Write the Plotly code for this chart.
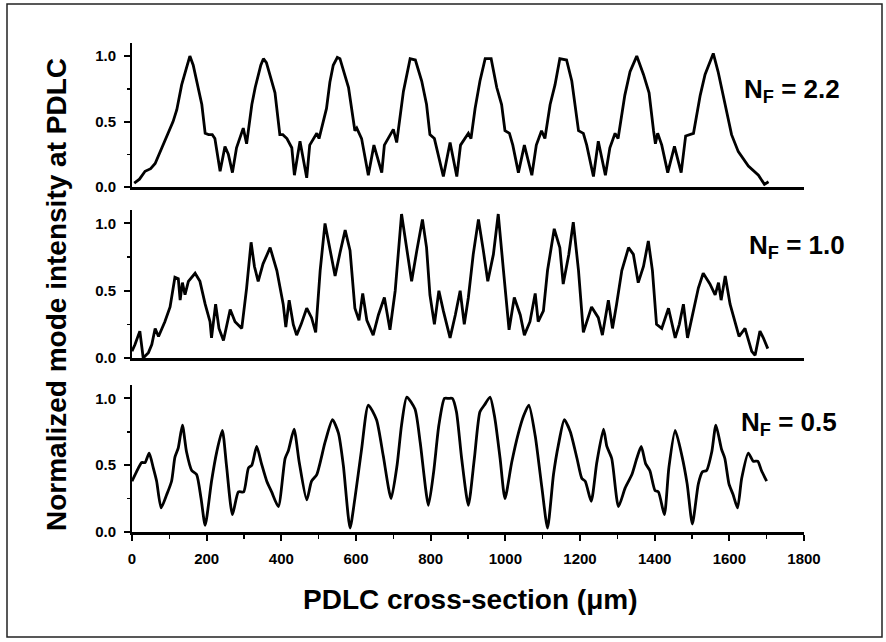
import plotly.graph_objects as go

# ---- data ----
x_nf22 = [6, 20, 35, 50, 62, 80, 97, 101, 110, 120, 133, 145, 155, 164, 178, 187, 196, 205, 215, 222, 236, 249, 258, 269, 280, 298, 307, 321, 330, 345, 352, 360, 370, 383, 396, 404, 415, 428, 435, 450, 468, 476, 495, 501, 521, 530, 539, 550, 557, 566, 580, 597, 602, 615, 633, 648, 669, 676, 700, 709, 718, 727, 745, 759, 776, 789, 798, 810, 834, 852, 870, 880, 901, 908, 919, 932, 946, 962, 977, 990, 999, 1011, 1020, 1035, 1051, 1071, 1083, 1097, 1106, 1120, 1133, 1146, 1164, 1178, 1196, 1209, 1218, 1236, 1249, 1268, 1280, 1294, 1302, 1320, 1334, 1352, 1370, 1385, 1397, 1402, 1408, 1419, 1435, 1453, 1471, 1483, 1504, 1522, 1535, 1557, 1570, 1588, 1606, 1624, 1651, 1678, 1694, 1705]
y_nf22 = [0.03, 0.06, 0.12, 0.14, 0.18, 0.30, 0.42, 0.45, 0.50, 0.59, 0.78, 0.90, 1.00, 0.93, 0.76, 0.63, 0.41, 0.40, 0.40, 0.37, 0.12, 0.31, 0.25, 0.11, 0.30, 0.45, 0.33, 0.63, 0.76, 0.93, 0.98, 0.95, 0.85, 0.72, 0.40, 0.40, 0.37, 0.30, 0.09, 0.35, 0.07, 0.32, 0.41, 0.37, 0.60, 0.80, 0.93, 0.99, 0.98, 0.90, 0.76, 0.43, 0.45, 0.37, 0.09, 0.32, 0.11, 0.32, 0.44, 0.34, 0.55, 0.73, 0.98, 0.97, 0.81, 0.63, 0.40, 0.37, 0.08, 0.34, 0.08, 0.32, 0.41, 0.37, 0.60, 0.81, 0.98, 0.98, 0.76, 0.63, 0.43, 0.41, 0.32, 0.11, 0.32, 0.09, 0.32, 0.43, 0.37, 0.63, 0.78, 0.98, 0.97, 0.81, 0.43, 0.41, 0.32, 0.08, 0.35, 0.09, 0.30, 0.41, 0.37, 0.70, 0.88, 1.00, 0.86, 0.72, 0.43, 0.33, 0.41, 0.32, 0.11, 0.31, 0.11, 0.39, 0.41, 0.70, 0.86, 1.02, 0.88, 0.63, 0.40, 0.27, 0.16, 0.09, 0.02, 0.04]

x_nf10 = [0, 8, 21, 30, 44, 53, 62, 71, 88, 102, 115, 124, 129, 135, 142, 151, 169, 182, 196, 209, 213, 224, 233, 245, 263, 276, 294, 307, 319, 328, 338, 351, 370, 388, 405, 412, 421, 432, 441, 453, 468, 481, 492, 504, 517, 530, 544, 557, 571, 584, 597, 608, 618, 629, 646, 660, 676, 691, 705, 722, 736, 749, 763, 778, 789, 798, 810, 822, 834, 852, 866, 879, 890, 901, 914, 928, 941, 953, 968, 981, 995, 1010, 1024, 1040, 1051, 1066, 1080, 1088, 1102, 1113, 1131, 1146, 1155, 1170, 1182, 1196, 1209, 1231, 1249, 1260, 1276, 1287, 1298, 1312, 1330, 1343, 1356, 1370, 1383, 1394, 1405, 1419, 1437, 1455, 1466, 1477, 1488, 1501, 1517, 1530, 1548, 1562, 1571, 1578, 1589, 1602, 1616, 1626, 1642, 1660, 1669, 1682, 1691, 1703]
y_nf10 = [0.05, 0.10, 0.20, 0.00, 0.04, 0.10, 0.22, 0.16, 0.27, 0.38, 0.60, 0.59, 0.43, 0.56, 0.47, 0.57, 0.63, 0.57, 0.40, 0.27, 0.15, 0.40, 0.22, 0.13, 0.36, 0.27, 0.22, 0.52, 0.86, 0.68, 0.57, 0.70, 0.82, 0.65, 0.40, 0.23, 0.43, 0.25, 0.17, 0.25, 0.37, 0.30, 0.19, 0.65, 1.00, 0.80, 0.61, 0.78, 0.95, 0.80, 0.37, 0.28, 0.48, 0.28, 0.17, 0.32, 0.45, 0.21, 0.50, 1.07, 0.82, 0.57, 0.80, 1.03, 0.82, 0.47, 0.25, 0.50, 0.35, 0.15, 0.32, 0.50, 0.25, 0.45, 0.77, 1.03, 0.80, 0.57, 0.77, 1.07, 0.65, 0.21, 0.45, 0.32, 0.17, 0.27, 0.48, 0.27, 0.35, 0.65, 0.96, 0.82, 0.55, 0.77, 1.01, 0.65, 0.19, 0.38, 0.30, 0.17, 0.43, 0.22, 0.40, 0.65, 0.82, 0.77, 0.56, 0.68, 0.87, 0.65, 0.25, 0.22, 0.37, 0.15, 0.25, 0.40, 0.15, 0.32, 0.52, 0.63, 0.55, 0.47, 0.56, 0.43, 0.61, 0.40, 0.27, 0.16, 0.22, 0.05, 0.02, 0.20, 0.15, 0.07]

x_nf05 = [0, 12, 26, 35, 46, 57, 66, 78, 93, 106, 115, 124, 135, 146, 160, 173, 185, 196, 213, 227, 242, 253, 269, 285, 299, 312, 321, 334, 347, 361, 374, 392, 410, 419, 434, 448, 468, 481, 495, 517, 537, 553, 566, 584, 597, 615, 633, 655, 673, 694, 710, 722, 736, 758, 772, 794, 808, 822, 837, 848, 858, 869, 883, 901, 917, 932, 944, 959, 972, 986, 999, 1017, 1035, 1049, 1063, 1080, 1098, 1113, 1129, 1142, 1158, 1174, 1192, 1205, 1214, 1230, 1245, 1263, 1272, 1285, 1303, 1321, 1339, 1352, 1364, 1376, 1387, 1401, 1410, 1426, 1438, 1455, 1473, 1487, 1501, 1517, 1528, 1539, 1553, 1564, 1579, 1588, 1599, 1610, 1622, 1633, 1651, 1664, 1676, 1686, 1700]
y_nf05 = [0.38, 0.45, 0.52, 0.52, 0.59, 0.48, 0.38, 0.18, 0.28, 0.38, 0.56, 0.63, 0.80, 0.60, 0.46, 0.43, 0.25, 0.05, 0.38, 0.60, 0.76, 0.50, 0.13, 0.30, 0.30, 0.48, 0.50, 0.64, 0.51, 0.38, 0.30, 0.19, 0.55, 0.61, 0.77, 0.52, 0.24, 0.38, 0.43, 0.67, 0.84, 0.74, 0.50, 0.03, 0.25, 0.62, 0.95, 0.84, 0.57, 0.25, 0.50, 0.80, 1.01, 0.92, 0.67, 0.20, 0.45, 0.80, 1.00, 1.00, 1.00, 0.90, 0.55, 0.20, 0.55, 0.90, 0.95, 1.01, 0.85, 0.55, 0.25, 0.52, 0.74, 0.87, 0.95, 0.72, 0.33, 0.03, 0.43, 0.65, 0.84, 0.75, 0.55, 0.40, 0.38, 0.23, 0.52, 0.77, 0.64, 0.55, 0.19, 0.33, 0.43, 0.55, 0.64, 0.51, 0.46, 0.31, 0.30, 0.13, 0.48, 0.76, 0.57, 0.36, 0.06, 0.36, 0.45, 0.46, 0.60, 0.80, 0.62, 0.55, 0.36, 0.28, 0.18, 0.40, 0.59, 0.53, 0.53, 0.46, 0.38]

panel_labels = ["N<sub>F</sub> = 2.2", "N<sub>F</sub> = 1.0", "N<sub>F</sub> = 0.5"]
x_title = "PDLC cross-section (\u03bcm)"
y_title = "Normalized mode intensity at PDLC"

# ---- figure ----
FONT = "Liberation Sans, Arial, sans-serif"
fig = go.Figure()
series = [(x_nf22, y_nf22, "x", "y"), (x_nf10, y_nf10, "x2", "y2"), (x_nf05, y_nf05, "x3", "y3")]
for i, (xs, ys, xa, ya) in enumerate(series):
    fig.add_trace(go.Scatter(x=xs, y=ys, xaxis=xa, yaxis=ya, mode="lines",
                             line=dict(color="black", width=2.8,
                                       shape="spline" if i == 2 else "linear", smoothing=0.6),
                             showlegend=False, hoverinfo="skip"))

domains = [[0.7055, 1.0], [0.3558, 0.6585], [0.0, 0.3006]]
tickfont = dict(family=FONT, size=15, color="black", weight="bold")
layout = dict(
    width=886, height=642,
    margin=dict(l=132, r=82, t=43, b=110),
    paper_bgcolor="white", plot_bgcolor="white",
    font=dict(family=FONT, color="black"),
    showlegend=False,
)
for i in range(3):
    sx = "" if i == 0 else str(i + 1)
    last = (i == 2)
    layout["xaxis" + sx] = dict(
        domain=[0, 1], range=[0, 1800], anchor="y" + sx,
        showline=True, linecolor="black", linewidth=3,
        showgrid=False, zeroline=False,
        showticklabels=last, tickfont=tickfont, ticklabelstandoff=5,
        tickmode="linear", tick0=0, dtick=200,
        ticks="outside" if last else "", ticklen=6, tickwidth=2, tickcolor="black",
        minor=dict(ticks="outside" if last else "", dtick=100, ticklen=4, tickwidth=1.5, tickcolor="black"),
    )
    layout["yaxis" + sx] = dict(
        domain=domains[i], range=[0, 1.1], anchor="x" + sx,
        showline=True, linecolor="black", linewidth=2,
        showgrid=False, zeroline=False,
        tickmode="linear", tick0=0, dtick=0.5, tickformat=".1f",
        ticks="outside", ticklen=6, tickwidth=2, tickcolor="black",
        minor=dict(ticks="outside", dtick=0.25, ticklen=3, tickwidth=1.5, tickcolor="black"),
        tickfont=tickfont, ticklabelstandoff=5,
    )
fig.update_layout(**layout)

label_pos = [(1637, 0.74, "x", "y"), (1650, 0.83, "x2", "y2"), (1629, 0.81, "x3", "y3")]
for txt, (lx, ly, xr, yr) in zip(panel_labels, label_pos):
    fig.add_annotation(text=txt, x=lx, y=ly, xref=xr, yref=yr, xanchor="left", yanchor="middle",
                       showarrow=False, borderpad=0,
                       font=dict(family=FONT, size=26, color="black", weight="bold"))

fig.add_annotation(text=x_title, x=0.503, y=-0.139, xref="paper", yref="paper",
                   xanchor="center", yanchor="middle", showarrow=False,
                   font=dict(family=FONT, size=28, color="black", weight="bold"))
fig.add_annotation(text=y_title, x=(56 - 132) / 672, y=(532 - 295) / 489, xref="paper", yref="paper",
                   textangle=-90, xanchor="center", yanchor="middle", showarrow=False,
                   font=dict(family=FONT, size=28, color="black", weight="bold"))

# outer frame
fig.add_shape(type="rect", xref="paper", yref="paper",
              x0=(7 - 132) / 672, x1=(882 - 132) / 672,
              y0=(532 - 637) / 489, y1=(532 - 4) / 489,
              line=dict(color="#222222", width=1.5), fillcolor="rgba(0,0,0,0)")

fig.write_html("out.html", config={"displayModeBar": False, "staticPlot": True},
               post_script="document.body.style.margin='0px';document.body.style.overflow='hidden';")
